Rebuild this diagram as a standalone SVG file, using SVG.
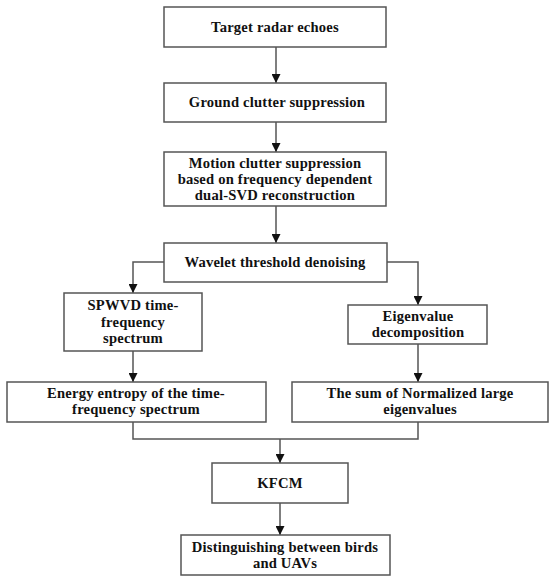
<svg xmlns="http://www.w3.org/2000/svg" width="550" height="581" viewBox="0 0 550 581">
<style>
.box{fill:#fff;stroke:#555;stroke-width:1.5}
.t{font-family:"Liberation Serif","Times New Roman",serif;font-weight:bold;font-size:14.6px;letter-spacing:0.2px;fill:#111;text-anchor:middle}
.c{fill:none;stroke:#555;stroke-width:1.5}
</style>
<defs>
<marker id="ah" viewBox="0 0 10 10" refX="10" refY="5" markerWidth="9" markerHeight="9" markerUnits="userSpaceOnUse" orient="auto">
<path d="M0,0 L10,5 L0,10 Z" fill="#111"/>
</marker>
</defs>
<rect width="550" height="581" fill="#fff"/>
<g id="connectors">
<line class="c" x1="276" y1="47" x2="276" y2="83" marker-end="url(#ah)"/>
<line class="c" x1="276" y1="122" x2="276" y2="152" marker-end="url(#ah)"/>
<line class="c" x1="276" y1="206" x2="276" y2="243" marker-end="url(#ah)"/>
<polyline class="c" points="164,262 133,262 133,293" marker-end="url(#ah)"/>
<polyline class="c" points="387,262 418,262 418,305" marker-end="url(#ah)"/>
<line class="c" x1="133" y1="351" x2="133" y2="382" marker-end="url(#ah)"/>
<line class="c" x1="418" y1="344" x2="418" y2="382" marker-end="url(#ah)"/>
<polyline class="c" points="133,422 133,439 418,439 418,422"/>
<line class="c" x1="280" y1="439" x2="280" y2="463" marker-end="url(#ah)"/>
<line class="c" x1="280" y1="503" x2="280" y2="535" marker-end="url(#ah)"/>
</g>
<g id="n1"><rect class="box" x="164" y="7" width="222" height="40"/><text class="t" x="275" y="32">Target radar echoes</text></g>
<g id="n2"><rect class="box" x="164" y="83" width="222" height="39"/><text class="t" x="277" y="107">Ground clutter suppression</text></g>
<g id="n3"><rect class="box" x="164" y="152" width="222" height="54"/><text class="t" x="275" y="168">Motion clutter suppression</text><text class="t" x="275" y="184">based on frequency dependent</text><text class="t" x="275" y="200">dual-SVD reconstruction</text></g>
<g id="n4"><rect class="box" x="164" y="243" width="223" height="39"/><text class="t" x="275" y="267">Wavelet threshold denoising</text></g>
<g id="n5"><rect class="box" x="64" y="293" width="138" height="58"/><text class="t" x="133" y="310">SPWVD time-</text><text class="t" x="133" y="327">frequency</text><text class="t" x="133" y="343">spectrum</text></g>
<g id="n6"><rect class="box" x="348" y="305" width="139" height="39"/><text class="t" x="418" y="321">Eigenvalue</text><text class="t" x="418" y="337">decomposition</text></g>
<g id="n7"><rect class="box" x="7" y="382" width="259" height="40"/><text class="t" x="136" y="398">Energy entropy of the time-</text><text class="t" x="136" y="414">frequency spectrum</text></g>
<g id="n8"><rect class="box" x="292" y="382" width="256" height="40"/><text class="t" x="420" y="398">The sum of Normalized large</text><text class="t" x="420" y="414">eigenvalues</text></g>
<g id="n9"><rect class="box" x="212" y="463" width="136" height="40"/><text class="t" x="280" y="488">KFCM</text></g>
<g id="n10"><rect class="box" x="181" y="535" width="209" height="40"/><text class="t" x="285" y="552">Distinguishing between birds</text><text class="t" x="285" y="568">and UAVs</text></g>
</svg>
